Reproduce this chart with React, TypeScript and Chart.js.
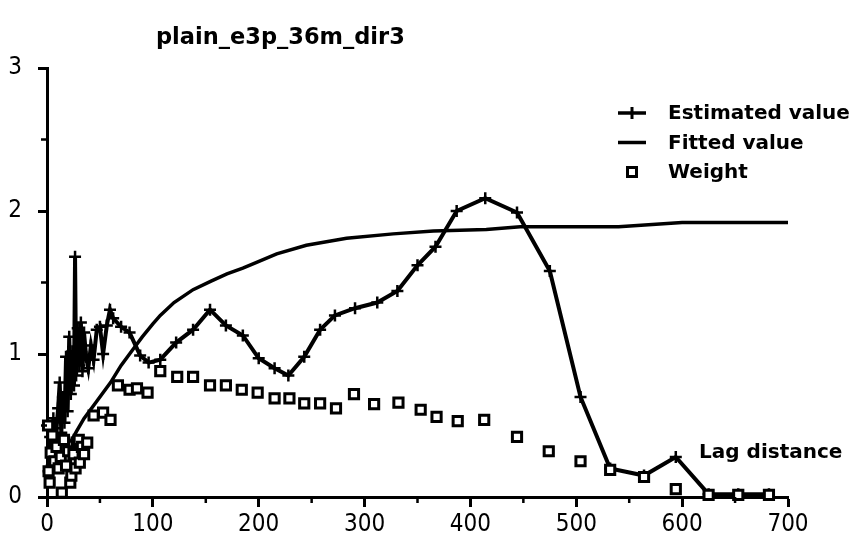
import { useEffect, useRef } from "react";
import { Chart, registerables } from "chart.js";

Chart.register(...registerables);

const TITLE = "plain_e3p_36m_dir3";
const AXIS_NOTE = "Lag distance";
const SERIES_NAMES = ["Estimated value", "Fitted value", "Weight"];

const X_MAX = 700;
const Y_MAX = 3;

// Experimental semivariogram (estimated values)
const estimatedLags = [
  1.5, 3, 4.5, 6, 7.5, 9, 10.5, 12, 13.5, 15, 16.5, 18, 19.5, 21, 22.5, 24, 25.5, 26.5, 27.5, 29,
  30.5, 32, 33.5, 35, 37, 39, 41.5, 44, 47, 50, 53, 56.5, 59.5, 62.5, 70, 78, 88, 96, 107,
  122, 138, 154, 169, 185, 200, 215, 228, 243, 258, 272, 291, 312, 331, 350, 367, 387, 414,
  444, 475, 504, 532, 564, 594, 625, 653, 682,
];
const estimatedValues = [
  0.18, 0.42, 0.22, 0.55, 0.3, 0.48, 0.62, 0.8, 0.45, 0.7, 0.52, 0.98, 0.6, 1.12, 0.72, 1.02, 0.78, 1.68, 0.85, 1.18,
  0.92, 1.22, 0.88, 1.15, 0.98, 0.9, 1.06, 0.96, 1.17, 1.19, 1.0, 1.2, 1.31, 1.25, 1.19, 1.15, 0.99, 0.94, 0.96,
  1.08, 1.17, 1.31, 1.2, 1.13, 0.97, 0.9, 0.85, 0.98, 1.17, 1.27, 1.32, 1.36, 1.44, 1.62, 1.75, 2.0, 2.09,
  1.99, 1.58, 0.7, 0.2, 0.15, 0.28, 0.02, 0.02, 0.02,
];

// Fitted model curve
const fittedLags = [
  22, 28, 35, 47, 60, 70, 82, 90, 100, 107, 120, 138, 155, 170, 185, 198, 217, 245, 283, 327, 365, 415,
  447, 540, 600, 700,
];
const fittedValues = [
  0.38, 0.46, 0.55, 0.67, 0.8, 0.92, 1.04, 1.12, 1.21, 1.27, 1.36, 1.45, 1.51, 1.56, 1.6, 1.64, 1.7, 1.76,
  1.81, 1.84, 1.86, 1.87, 1.89, 1.89, 1.92, 1.92,
];

// Pair-count weights per lag class
const weightLags = [
  1, 1.5, 2.5, 3.5, 5, 7, 9, 11, 13, 14, 16, 18, 20, 22, 23, 25, 27, 28, 30, 31, 33, 35, 38, 44, 53, 60,
  67, 78, 85, 95, 107, 123, 138, 154, 169, 184, 199, 215, 229, 243, 258, 273, 290, 309, 332, 353, 368,
  388, 413, 444, 474, 504, 532, 564, 594, 625, 653, 682,
];
const weightValues = [
  0.5, 0.18, 0.1, 0.31, 0.43, 0.25, 0.35, 0.2, 0.28, 0.03, 0.4, 0.22, 0.32, 0.1, 0.15, 0.3, 0.2, 0.38, 0.4,
  0.24, 0.35, 0.3, 0.38, 0.57, 0.59, 0.54, 0.78, 0.75, 0.76, 0.73, 0.88, 0.84, 0.84, 0.78, 0.78, 0.75, 0.73,
  0.69, 0.69, 0.655, 0.655, 0.62, 0.72, 0.65, 0.66, 0.61, 0.56, 0.53, 0.54, 0.42, 0.32, 0.25, 0.19, 0.14,
  0.055, 0.015, 0.015, 0.015,
];

const toPoints = (xs: number[], ys: number[]) => xs.map((x, i) => ({ x, y: ys[i] }));

const TEXT_FONT = "'DejaVu Sans', Verdana, sans-serif";
const TICK_FONT = "'DejaVu Sans Condensed', 'Liberation Sans Narrow', Roboto, sans-serif";

// Short unlabeled ticks between the labeled ones
const minorTicks = {
  id: "minorTicks",
  afterDraw(chart: any) {
    const { ctx } = chart;
    const xs = chart.scales.x;
    const ys = chart.scales.y;
    ctx.save();
    ctx.strokeStyle = "#000";
    ctx.lineWidth = 2.5;
    ctx.beginPath();
    for (let v = 50; v < X_MAX; v += 100) {
      const px = xs.getPixelForValue(v);
      ctx.moveTo(px, xs.top);
      ctx.lineTo(px, xs.top + 6);
    }
    for (let v = 0.5; v < Y_MAX; v += 1) {
      const py = ys.getPixelForValue(v);
      ctx.moveTo(ys.right, py);
      ctx.lineTo(ys.right - 6, py);
    }
    ctx.stroke();
    ctx.restore();
  },
};

// Title, series key and axis note
const captions = {
  id: "captions",
  afterDraw(chart: any) {
    const { ctx, chartArea } = chart;
    const xs = chart.scales.x;
    const ys = chart.scales.y;
    ctx.save();
    ctx.fillStyle = "#000";
    ctx.textBaseline = "alphabetic";
    ctx.textAlign = "left";
    ctx.font = `bold 22.5px ${TEXT_FONT}`;
    ctx.fillText(TITLE, 156, 44);

    ctx.font = `bold 20px ${TEXT_FONT}`;
    ctx.textBaseline = "middle";
    ctx.fillText(AXIS_NOTE, xs.getPixelForValue(616), ys.getPixelForValue(0.31));

    const symX = chartArea.right - 156;
    const textX = chartArea.right - 120;
    chart.data.datasets.forEach((ds: any, i: number) => {
      const y = chartArea.top + 45 + i * 29.5;
      ctx.strokeStyle = "#000";
      if (ds.showLine) {
        ctx.lineWidth = 3.5;
        ctx.beginPath();
        ctx.moveTo(symX - 14, y);
        ctx.lineTo(symX + 14, y);
        ctx.stroke();
      }
      if (ds.pointStyle === "cross") {
        ctx.lineWidth = 3;
        ctx.beginPath();
        ctx.moveTo(symX, y - 6);
        ctx.lineTo(symX, y + 6);
        ctx.stroke();
      } else if (ds.pointStyle === "rect") {
        ctx.lineWidth = 3;
        ctx.fillStyle = "#fff";
        ctx.fillRect(symX - 4.5, y - 4.5, 9, 9);
        ctx.strokeRect(symX - 4.5, y - 4.5, 9, 9);
        ctx.fillStyle = "#000";
      }
      ctx.fillText(ds.label, textX, y + 1);
    });
    ctx.restore();
  },
};

export default function App() {
  const canvasRef = useRef<HTMLCanvasElement | null>(null);

  useEffect(() => {
    const canvas = canvasRef.current;
    if (!canvas) return;
    const tickFont = { family: TICK_FONT, size: 24 };
    const chart = new Chart(canvas, {
      type: "scatter",
      data: {
        datasets: [
          {
            label: SERIES_NAMES[0],
            data: toPoints(estimatedLags, estimatedValues),
            showLine: true,
            borderColor: "#000",
            borderWidth: 4,
            pointStyle: "cross",
            pointRadius: 6,
            pointBorderWidth: 2.5,
            pointBorderColor: "#000",
            tension: 0,
            clip: false,
            order: 1,
          },
          {
            label: SERIES_NAMES[1],
            data: toPoints(fittedLags, fittedValues),
            showLine: true,
            borderColor: "#000",
            borderWidth: 3.5,
            pointRadius: 0,
            tension: 0,
            clip: false,
            order: 2,
          },
          {
            label: SERIES_NAMES[2],
            data: toPoints(weightLags, weightValues),
            showLine: false,
            pointStyle: "rect",
            pointRadius: 6.5,
            pointBorderWidth: 3,
            pointBorderColor: "#000",
            pointBackgroundColor: "#fff",
            clip: false,
            order: 0,
          },
        ] as any,
      },
      options: {
        animation: false,
        responsive: false,
        events: [],
        layout: { padding: { top: 68, right: 71, left: 0, bottom: 0 } },
        plugins: {
          legend: { display: false },
          title: { display: false },
          tooltip: { enabled: false },
        },
        scales: {
          x: {
            type: "linear",
            min: 0,
            max: X_MAX,
            afterFit: (s: any) => {
              s.height = 52;
            },
            ticks: {
              stepSize: 100,
              autoSkip: false,
              maxRotation: 0,
              padding: 3,
              color: "#000",
              font: tickFont,
            },
            grid: {
              display: true,
              drawOnChartArea: false,
              tickLength: 10,
              tickWidth: 3,
              tickColor: "#000",
            },
            border: { display: true, color: "#000", width: 3 },
          },
          y: {
            type: "linear",
            min: 0,
            max: Y_MAX,
            afterFit: (s: any) => {
              s.width = 47;
            },
            ticks: {
              stepSize: 1,
              padding: 16,
              color: "#000",
              font: tickFont,
            },
            grid: {
              display: true,
              drawOnChartArea: false,
              tickLength: 9,
              tickWidth: 3,
              tickColor: "#000",
            },
            border: { display: true, color: "#000", width: 3 },
          },
        },
      } as any,
      plugins: [minorTicks, captions],
    });
    return () => chart.destroy();
  }, []);

  return (
    <div style={{ position: "absolute", left: 0, top: 0, width: 859, height: 549, background: "#fff" }}>
      <canvas ref={canvasRef} width={859} height={549} />
    </div>
  );
}
